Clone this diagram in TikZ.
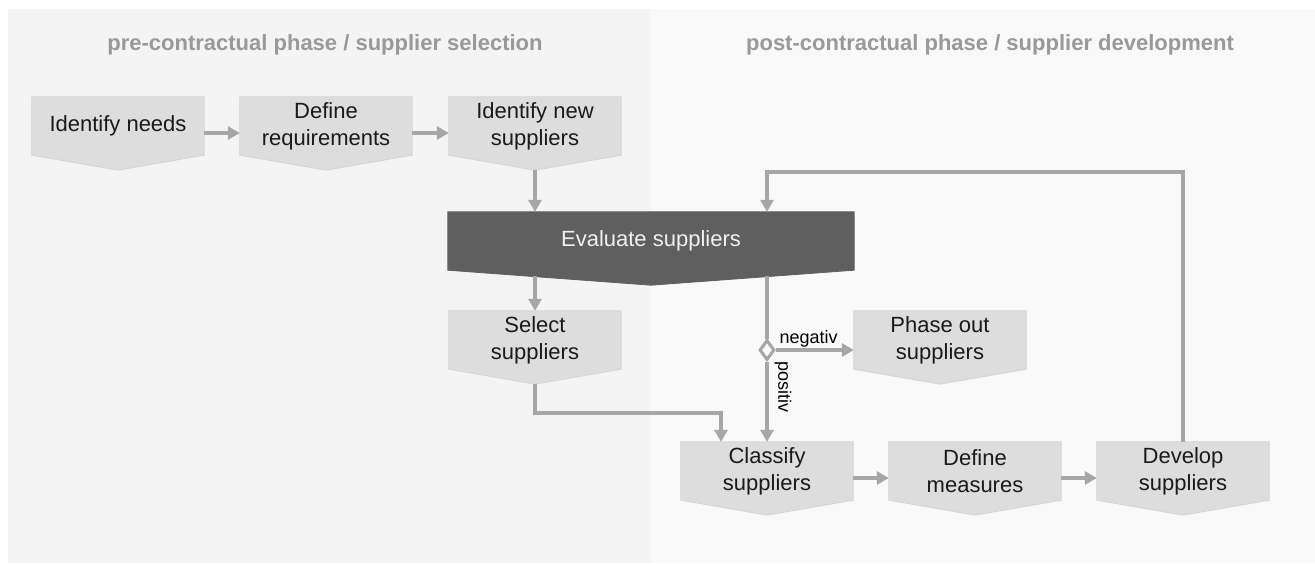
\documentclass[tikz,border=0pt]{standalone}
\usepackage{fontspec}
\setmainfont{Liberation Sans}
\usetikzlibrary{arrows.meta,shapes.geometric,backgrounds}
\definecolor{panelL}{HTML}{F4F4F4}
\definecolor{panelR}{HTML}{F9F9F9}
\definecolor{boxgray}{HTML}{DDDDDD}
\definecolor{boxedge}{HTML}{D4D4D4}
\definecolor{darkbox}{HTML}{5F5F5F}
\definecolor{arrowgray}{HTML}{A6A6A6}
\definecolor{titlegray}{HTML}{999999}
\definecolor{boxtext}{HTML}{1A1A1A}
\newcommand\chevfill[3]{%
  \filldraw[fill=#2, draw=#3, line width=0.8pt] (#1.north west) -- (#1.north east) -- (#1.south east) -- ([yshift=-15pt]#1.south) -- (#1.south west) -- cycle;}
\begin{document}
\begin{tikzpicture}[x=1pt,y=-1pt,
  stepbox/.style={minimum width=172pt, minimum height=58pt, inner sep=0pt, align=center, font=\fontsize{22}{27}\selectfont, text=boxtext},
  flow/.style={draw=arrowgray, line width=4pt, -{Triangle[length=12pt,width=13pt]}},
  plain/.style={draw=arrowgray, line width=4pt},
  phasetitle/.style={font=\fontsize{22}{26}\selectfont\bfseries, text=titlegray},
  lab/.style={font=\fontsize{18}{20}\selectfont, text=black, inner sep=1pt},
  decision/.style={diamond, draw=arrowgray, fill=panelR, line width=3pt, minimum width=15pt, minimum height=20pt, inner sep=0pt}]
\useasboundingbox (0,0) rectangle (1315,563);

% nodes
\node[phasetitle] (t1) at (325,45) {pre-contractual phase / supplier selection};
\node[phasetitle] (t2) at (990,45) {post-contractual phase / supplier development};

\node[stepbox] (idn) at (118,126) {Identify needs};
\node[stepbox] (dreq) at (326,126) {Define\\requirements};
\node[stepbox] (ins) at (535,126) {Identify new\\suppliers};
\node[stepbox, minimum width=406pt, text=white!94!black] (ev) at (651,241) {Evaluate suppliers};
\node[stepbox] (sel) at (535,340) {Select\\suppliers};
\node[stepbox] (pho) at (940,340) {Phase out\\suppliers};
\node[stepbox] (cls) at (767,471) {Classify\\suppliers};
\node[stepbox] (dms) at (975,471) {Define\\measures};
\node[stepbox] (dev) at (1183,471) {Develop\\suppliers};

\begin{pgfonlayer}{background}
  \fill[white] (0,0) rectangle (1315,563);
  \fill[panelL] (8,9) rectangle (650,563);
  \fill[panelR] (650,9) rectangle (1315,563);
  \chevfill{idn}{boxgray}{boxedge}
  \chevfill{dreq}{boxgray}{boxedge}
  \chevfill{ins}{boxgray}{boxedge}
  \chevfill{ev}{darkbox}{darkbox}
  \chevfill{sel}{boxgray}{boxedge}
  \chevfill{pho}{boxgray}{boxedge}
  \chevfill{cls}{boxgray}{boxedge}
  \chevfill{dms}{boxgray}{boxedge}
  \chevfill{dev}{boxgray}{boxedge}
\end{pgfonlayer}

% connectors
\draw[flow] ([yshift=-7pt]idn.east) -- ([yshift=-7pt]dreq.west);
\draw[flow] ([yshift=-7pt]dreq.east) -- ([yshift=-7pt]ins.west);
\draw[flow] ([yshift=-15pt]ins.south) -- (ins.south |- ev.north);
\draw[flow] ([yshift=-6pt]ev.south -| sel.north) -- (sel.north);

\node[decision] (dec) at (767,350) {};
\draw[plain] ([yshift=-6pt]ev.south -| dec.north) -- (dec.north);
\draw[flow] (dec.south) -- (cls.north);
\draw[flow] (dec.east) -- (dec.east -| pho.west) node[lab, above, pos=0.42] (nlab) {negativ};
\node[lab, rotate=-90] (plab) at (783,387) {positiv};

\draw[flow] ([yshift=-15pt]sel.south) -- ++(0,29) -| ([xshift=-46pt]cls.north);
\draw[flow] ([yshift=-7pt]cls.east) -- ([yshift=-7pt]dms.west);
\draw[flow] ([yshift=-7pt]dms.east) -- ([yshift=-7pt]dev.west);
\draw[flow] (dev.north) -- ++(0,-270) -| (ev.north -| cls.north);
\end{tikzpicture}
\end{document}
